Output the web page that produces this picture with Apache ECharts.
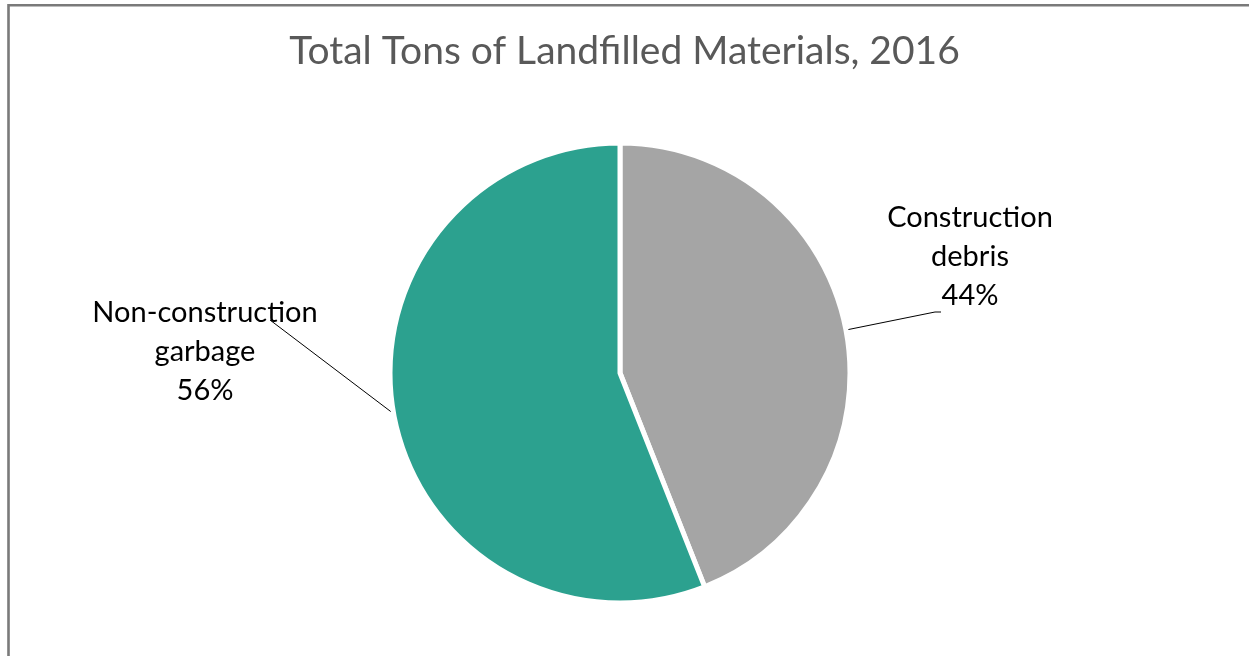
<!DOCTYPE html>
<html>
<head>
<meta charset="utf-8">
<script src="https://cdn.jsdelivr.net/npm/echarts@6/dist/echarts.min.js"></script>
<style>
  html, body { margin: 0; padding: 0; background: #fff; }
</style>
</head>
<body>
<div id="myChart" style="width:1249px;height:656px"></div>
<script>
var categories = ['Construction debris', 'Non-construction garbage']
var values = [44, 56]
var colors = ['#a5a5a5', '#2ca18f']

// where each label sits, and its leader line (layout only)
var labelSpots = [
  { x: 970, y: 257, line: [[846, 330], [935, 312], [941, 312]] },
  { x: 205, y: 352, line: [[394, 414], [332, 367], [270, 320]] }
]

var font = 'Lato, "Open Sans", sans-serif'

var myChart = echarts.init(document.getElementById('myChart'))

var pieData = categories.map(function (name, i) {
  return { name: name, value: values[i], itemStyle: { color: colors[i] } }
})

myChart.setOption({
  animation: false,
  title: {
    text: 'Total Tons of Landfilled Materials, 2016',
    left: 'center',
    top: 27,
    textStyle: {
      fontFamily: font,
      fontSize: 39,
      fontWeight: 'normal',
      color: '#595959'
    }
  },
  graphic: [{
    type: 'rect',
    shape: { x: 8.5, y: 5.3, width: 1400, height: 800 },
    style: { fill: 'none', stroke: '#7a7a7a', lineWidth: 2.6 },
    silent: true
  }],
  series: [{
    type: 'pie',
    center: [620, 373],
    radius: 230,
    startAngle: 90,
    clockwise: true,
    data: pieData,
    itemStyle: { borderColor: '#fff', borderWidth: 5 },
    label: {
      show: true,
      position: 'outside',
      fontFamily: font,
      fontSize: 29,
      lineHeight: 39,
      color: '#000',
      align: 'center',
      formatter: function (p) {
        return p.name.replace(' ', '\n') + '\n' + Math.round(p.percent) + '%'
      }
    },
    labelLine: {
      show: true,
      lineStyle: { color: '#000', width: 1 }
    },
    labelLayout: function (params) {
      var s = labelSpots[params.dataIndex]
      return {
        x: s.x,
        y: s.y,
        align: 'center',
        verticalAlign: 'middle',
        labelLinePoints: s.line
      }
    }
  }]
})
</script>
</body>
</html>
